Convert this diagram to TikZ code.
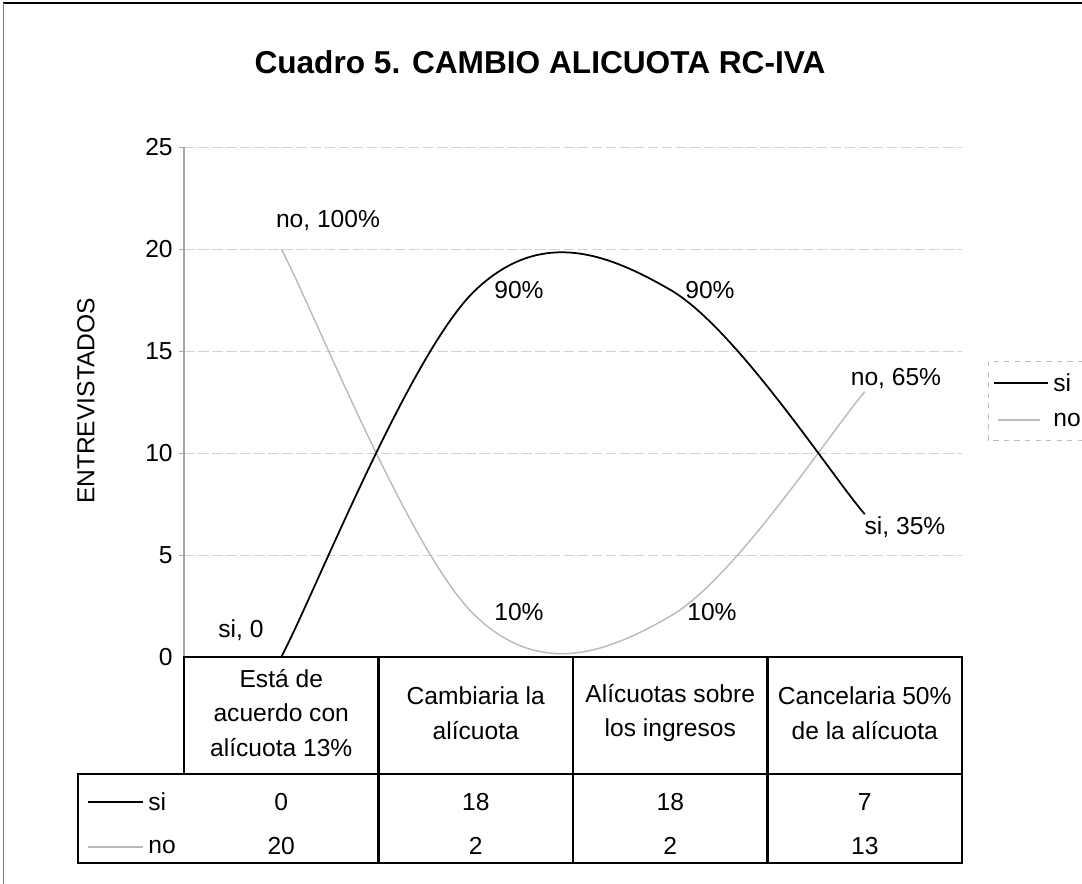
\documentclass[tikz,border=0pt]{standalone}
\usepackage{fontspec}
\setmainfont{Liberation Sans}
\usepackage{tikz}

\begin{document}
\begin{tikzpicture}[x=0.02cm, y=-0.02cm,
        lbl/.style={font=\fontsize{14}{16}\selectfont, inner sep=0pt},
        cell/.style={font=\fontsize{14}{19.6}\selectfont, align=center, inner sep=0pt},
        gridln/.style={gray!35, line width=0.5pt, dash pattern=on 6pt off 2pt},
        tbl/.style={line width=1.4pt},
        siline/.style={black, line width=1pt},
        noline/.style={gray!55, line width=0.8pt}]
        \clip (0,0) rectangle (1082,884);
        \draw[line width=1.4pt] (3,3) -- (1082,3);
        \draw[gray, line width=0.5pt] (3,3) -- (3,884);
        \node[font=\bfseries\fontsize{18}{20}\selectfont] (title) at (540,62) {Cuadro 5. CAMBIO ALICUOTA RC-IVA};

        % grid and value axis
        \foreach \v/\py in {5/555, 10/453, 15/351, 20/249, 25/147} {
            \draw[gridln] (184,\py) -- (962,\py);
            \draw[gray!70] (179,\py) -- (184,\py);
            \node[lbl, anchor=east] (tick\v) at (173,\py) {\v};
        }
        \node[lbl, anchor=east] (tick0) at (173,657) {0};
        \draw[gray!70, line width=0.6pt] (184,147) -- (184,657);
        \node[lbl, rotate=90] (ytitle) at (86,401) {ENTREVISTADOS};

        % data points
        \coordinate (si1) at (281.25,657);   \coordinate (si2) at (475.75,289.8);
        \coordinate (si3) at (670.25,289.8); \coordinate (si4) at (864.75,514.2);
        \coordinate (no1) at (281.25,249);   \coordinate (no2) at (475.75,616.2);
        \coordinate (no3) at (670.25,616.2); \coordinate (no4) at (864.75,391.8);

        \draw[noline] (no1) .. controls (313.7,310.2) and (410.9,555) .. (no2)
            .. controls (540.6,677.4) and (605.4,653.6) .. (no3)
            .. controls (735.1,578.8) and (832.3,429.2) .. (no4);
        \draw[siline] (si1) .. controls (313.7,595.8) and (410.9,351) .. (si2)
            .. controls (540.6,228.6) and (605.4,252.4) .. (si3)
            .. controls (735.1,327.2) and (832.3,476.8) .. (si4);

        \node[lbl] (lno1) at (328,220) {no, 100\%};
        \node[lbl] (lsi1) at (241,630) {si, 0};
        \node[lbl] (lsi2) at (519,290) {90\%};
        \node[lbl] (lsi3) at (710,290) {90\%};
        \node[lbl] (lno2) at (519,612) {10\%};
        \node[lbl] (lno3) at (712,612) {10\%};
        \node[lbl] (lno4) at (896,378) {no, 65\%};
        \node[lbl] (lsi4) at (905,527) {si, 35\%};

        % legend
        \draw[gray!50, dashed, line width=0.5pt] (988,361) rectangle (1120,440);
        \draw[siline] (994,383) -- (1048,383);
        \node[lbl, anchor=west] (legsi) at (1053,383) {si};
        \draw[noline] (998,420) -- (1040,420);
        \node[lbl, anchor=west] (legno) at (1053,420) {no};

        % data table
        \draw[tbl] (184,657) rectangle (962,774);
        \draw[tbl] (78,774) rectangle (962,863);
        \draw[tbl] (378.5,657) -- (378.5,863);
        \draw[tbl] (573,657) -- (573,863);
        \draw[tbl] (767.5,657) -- (767.5,863);
        \node[cell] (head1) at (281.25,713) {Está de\\acuerdo con\\alícuota 13\%};
        \node[cell] (head2) at (475.75,713) {Cambiaria la\\alícuota};
        \node[cell] (head3) at (670.25,713) {Alícuotas sobre\\los ingresos};
        \node[cell] (head4) at (864.75,713) {Cancelaria 50\%\\de la alícuota};
        \draw[siline] (88,802) -- (143,802);
        \node[lbl, anchor=west] (rowsi) at (148,802) {si};
        \draw[noline] (88,847) -- (143,847);
        \node[lbl, anchor=west] (rowno) at (148,847) {no};
        \node[lbl] (vsi1) at (281.25,802) {0};
        \node[lbl] (vsi2) at (475.75,802) {18};
        \node[lbl] (vsi3) at (670.25,802) {18};
        \node[lbl] (vsi4) at (864.75,802) {7};
        \node[lbl] (vno1) at (281.25,846) {20};
        \node[lbl] (vno2) at (475.75,846) {2};
        \node[lbl] (vno3) at (670.25,846) {2};
        \node[lbl] (vno4) at (864.75,846) {13};
\end{tikzpicture}
\end{document}
